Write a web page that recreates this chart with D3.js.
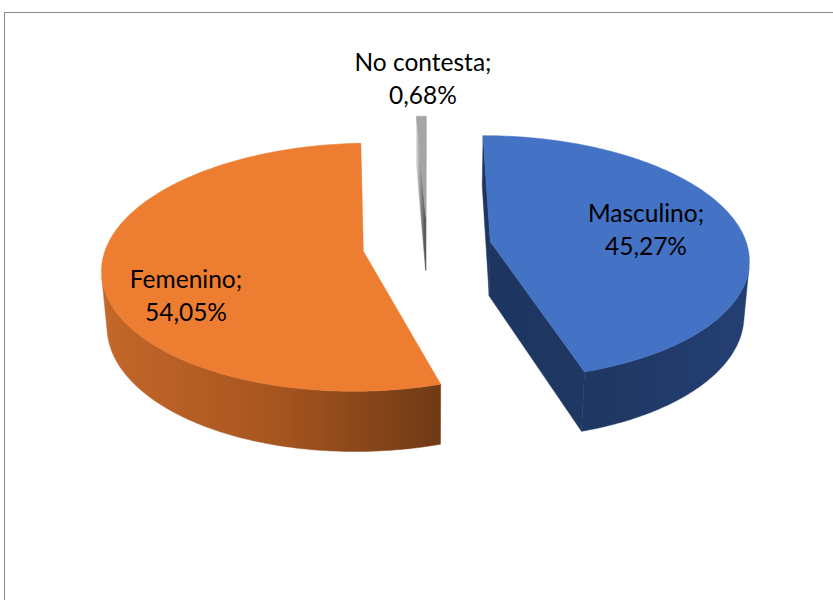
<!DOCTYPE html>
<html>
<head>
<meta charset="utf-8">
<script src="https://cdn.jsdelivr.net/npm/d3@7"></script>
<style>
  body { margin: 0; background: #fff; }
  .lbl { font-family: Lato, "Open Sans", sans-serif; font-size: 24.5px; fill: #000; }
</style>
</head>
<body>
<div id="chart"></div>
<script>
// data
const labels = ["Masculino", "Femenino", "No contesta"];
const values = [45.27, 54.05, 0.68];

// colours: top face, side gradient stops
const topColors = ["#4472C4", "#ED7D31", "#A5A5A5"];
const sideStops = [
  ["#1D3561", "#1F3864", "#243F74"],
  ["#C4672A", "#A8561F", "#703A16"],
  ["#D9D9D9", "#8C8C8C", "#4A4A4A"]
];

const FRAME_WIDTH = 833;
const FRAME_HEIGHT = 600;

// 3d view settings (unit radius pie, perspective camera)
const CENTER = {x: 427, y: 246};
const RADIUS_PX = 257;
const TILT = 28 * Math.PI / 180;
const DIST = 6.85;            // camera distance in radii
const THICK = 0.245;          // slab height in radii
const EXPLODE = 0.25;
const FOCAL = RADIUS_PX * DIST;
const CAM = [0, DIST * Math.sin(TILT), DIST * Math.cos(TILT)];

// label anchors (screen px, first baseline)
const LABEL_POS = [[646, 222], [186, 288], [423, 71]];
const LINE_GAP = 33;

const fmt = d3.formatLocale({decimal: ",", thousands: ".", grouping: [3], currency: ["", "€"]}).format(".2f");

function project(p) {
  const s = Math.sin(TILT), c = Math.cos(TILT);
  const vx = p[0], vy = p[1] - CAM[1], vz = p[2] - CAM[2];
  const fwd = -vy * s - vz * c;
  const up = vy * c - vz * s;
  return [CENTER.x + FOCAL * vx / fwd, CENTER.y - FOCAL * up / fwd];
}

function facing(normal, point) {
  return normal[0] * (CAM[0] - point[0]) + normal[1] * (CAM[1] - point[1]) + normal[2] * (CAM[2] - point[2]) > 0;
}

function dist(p) {
  return Math.hypot(p[0] - CAM[0], p[1] - CAM[1], p[2] - CAM[2]);
}

const svg = d3.select("#chart")
  .append("svg")
    .attr("width", FRAME_WIDTH)
    .attr("height", FRAME_HEIGHT);

svg.append("rect")
  .attr("x", 4.5).attr("y", 12.5)
  .attr("width", 900).attr("height", 700)
  .attr("fill", "#fff")
  .attr("stroke", "#8a8a8a")
  .attr("stroke-width", 1);

const defs = svg.append("defs");

const arcs = d3.pie().sort(null).value(d => d)(values);

const sideFaces = [];
const topFaces = [];

arcs.forEach((a, i) => {
  const a0 = a.startAngle, a1 = a.endAngle, mid = (a0 + a1) / 2;
  const ox = EXPLODE * Math.sin(mid), oz = -EXPLODE * Math.cos(mid);
  const pt = (ang, y) => [ox + Math.sin(ang), y, oz - Math.cos(ang)];
  const ctr = y => [ox, y, oz];
  const n = Math.max(3, Math.ceil((a1 - a0) / (Math.PI / 180)));
  const angs = d3.range(n + 1).map(k => a0 + (a1 - a0) * k / n);

  // horizontal extent for gradient
  const xs = angs.map(t => project(pt(t, 0))[0]).concat([project(ctr(0))[0]]);
  const g = defs.append("linearGradient")
    .attr("id", "side" + i)
    .attr("gradientUnits", "userSpaceOnUse")
    .attr("x1", d3.min(xs)).attr("x2", d3.max(xs)).attr("y1", 0).attr("y2", 0);
  sideStops[i].forEach((col, k) => {
    g.append("stop").attr("offset", k / (sideStops[i].length - 1)).attr("stop-color", col);
  });

  // outer curved side, joined into runs of front-facing steps
  let run = null;
  const runs = [];
  for (let k = 0; k < n; k++) {
    const tm = (angs[k] + angs[k + 1]) / 2;
    const vis = facing([Math.sin(tm), 0, -Math.cos(tm)], pt(tm, -THICK / 2));
    if (vis) {
      if (!run) { run = [angs[k]]; runs.push(run); }
      run.push(angs[k + 1]);
    } else {
      run = null;
    }
  }
  runs.forEach(r => {
    const tm = r[Math.floor(r.length / 2)];
    const pts = r.map(t => pt(t, 0)).concat(r.slice().reverse().map(t => pt(t, -THICK)));
    sideFaces.push({i, d: dist(pt(tm, -THICK / 2)), pts});
  });

  // radial faces
  const radial = [
    [a0, [-Math.cos(a0), 0, -Math.sin(a0)]],
    [a1, [Math.cos(a1), 0, Math.sin(a1)]]
  ];
  radial.forEach(([t, nrm]) => {
    const e = pt(t, -THICK / 2);
    const pm = [(e[0] + ox) / 2, -THICK / 2, (e[2] + oz) / 2];
    if (!facing(nrm, pm)) return;
    sideFaces.push({i, d: dist(pm), pts: [ctr(0), pt(t, 0), pt(t, -THICK), ctr(-THICK)]});
  });

  topFaces.push({i, d: dist(ctr(0)), pts: [ctr(0)].concat(angs.map(t => pt(t, 0)))});
});

const line = d3.line();

sideFaces.sort((p, q) => q.d - p.d);
svg.append("g").selectAll("path")
  .data(sideFaces)
  .enter()
  .append("path")
    .attr("d", f => line(f.pts.map(project)) + "Z")
    .attr("fill", f => "url(#side" + f.i + ")")
    .attr("stroke", f => "url(#side" + f.i + ")")
    .attr("stroke-width", 0.5)
    .attr("stroke-linejoin", "round");

topFaces.sort((p, q) => q.d - p.d);
svg.append("g").selectAll("path")
  .data(topFaces)
  .enter()
  .append("path")
    .attr("d", f => line(f.pts.map(project)) + "Z")
    .attr("fill", f => topColors[f.i])
    .attr("stroke", f => topColors[f.i])
    .attr("stroke-width", 0.5);

// data labels
const lbl = svg.append("g").selectAll("text")
  .data(arcs)
  .enter()
  .append("text")
    .attr("class", "lbl")
    .attr("text-anchor", "middle")
    .attr("x", (d, i) => LABEL_POS[i][0])
    .attr("y", (d, i) => LABEL_POS[i][1]);

lbl.append("tspan")
  .attr("x", (d, i) => LABEL_POS[i][0])
  .text((d, i) => labels[i] + ";");
lbl.append("tspan")
  .attr("x", (d, i) => LABEL_POS[i][0])
  .attr("dy", LINE_GAP)
  .text((d, i) => fmt(values[i]) + "%");
</script>
</body>
</html>
